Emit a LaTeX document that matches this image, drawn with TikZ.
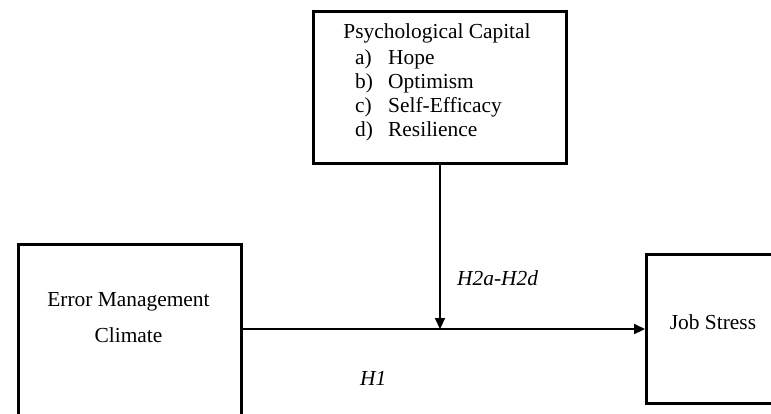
\documentclass[tikz,border=0pt]{standalone}
\usepackage{fontspec}
\setmainfont{Liberation Serif}
\usetikzlibrary{arrows.meta}
\begin{document}
\begin{tikzpicture}[x=1pt,y=-1pt,
  box/.style={draw,line width=3pt,inner sep=0pt,anchor=north west},
  txt/.style={inner sep=0pt,font=\fontsize{21.4}{24.5}\selectfont},
  lbl/.style={txt,font=\fontsize{21.4}{24.5}\selectfont\itshape},
  arr/.style={line width=2.2pt,-{Triangle[length=11pt,width=10pt]}}]
\useasboundingbox (0,0) rectangle (771,413);
\clip (0,0) rectangle (771,413);
\fill[white] (0,0) rectangle (771,413);
% boxes
\node[box,minimum width=253,minimum height=152] (pc) at (312,10) {};
\node[box,minimum width=223,minimum height=220] (emc) at (17,243) {};
\node[box,minimum width=136,minimum height=149] (js) at (645,253) {};
% texts
\node[txt,anchor=base] (pct) at (437,38) {Psychological Capital};
\node[txt,anchor=base west] (ia) at (355,64) {\makebox[33pt][l]{a)}Hope};
\node[txt,anchor=base west] (ib) at (355,88) {\makebox[33pt][l]{b)}Optimism};
\node[txt,anchor=base west] (ic) at (355,112) {\makebox[33pt][l]{c)}Self-Efficacy};
\node[txt,anchor=base west] (id) at (355,136) {\makebox[33pt][l]{d)}Resilience};
\node[txt,anchor=base] (emc1) at (128.5,306) {Error Management};
\node[txt,anchor=base] (emc2) at (128.5,342) {Climate};
\node[txt,anchor=base] (jst) at (713,329) {Job Stress};
\node[lbl,anchor=base west] (h2) at (457,285) {H2a-H2d};
\node[lbl,anchor=base west] (h1) at (360,385) {H1};
% connectors
\coordinate (m) at (pc.south |- js.west);
\draw[arr] (emc.east |- js.west) -- (js.west);
\draw[arr] (pc.south) -- (m);
\end{tikzpicture}
\end{document}
